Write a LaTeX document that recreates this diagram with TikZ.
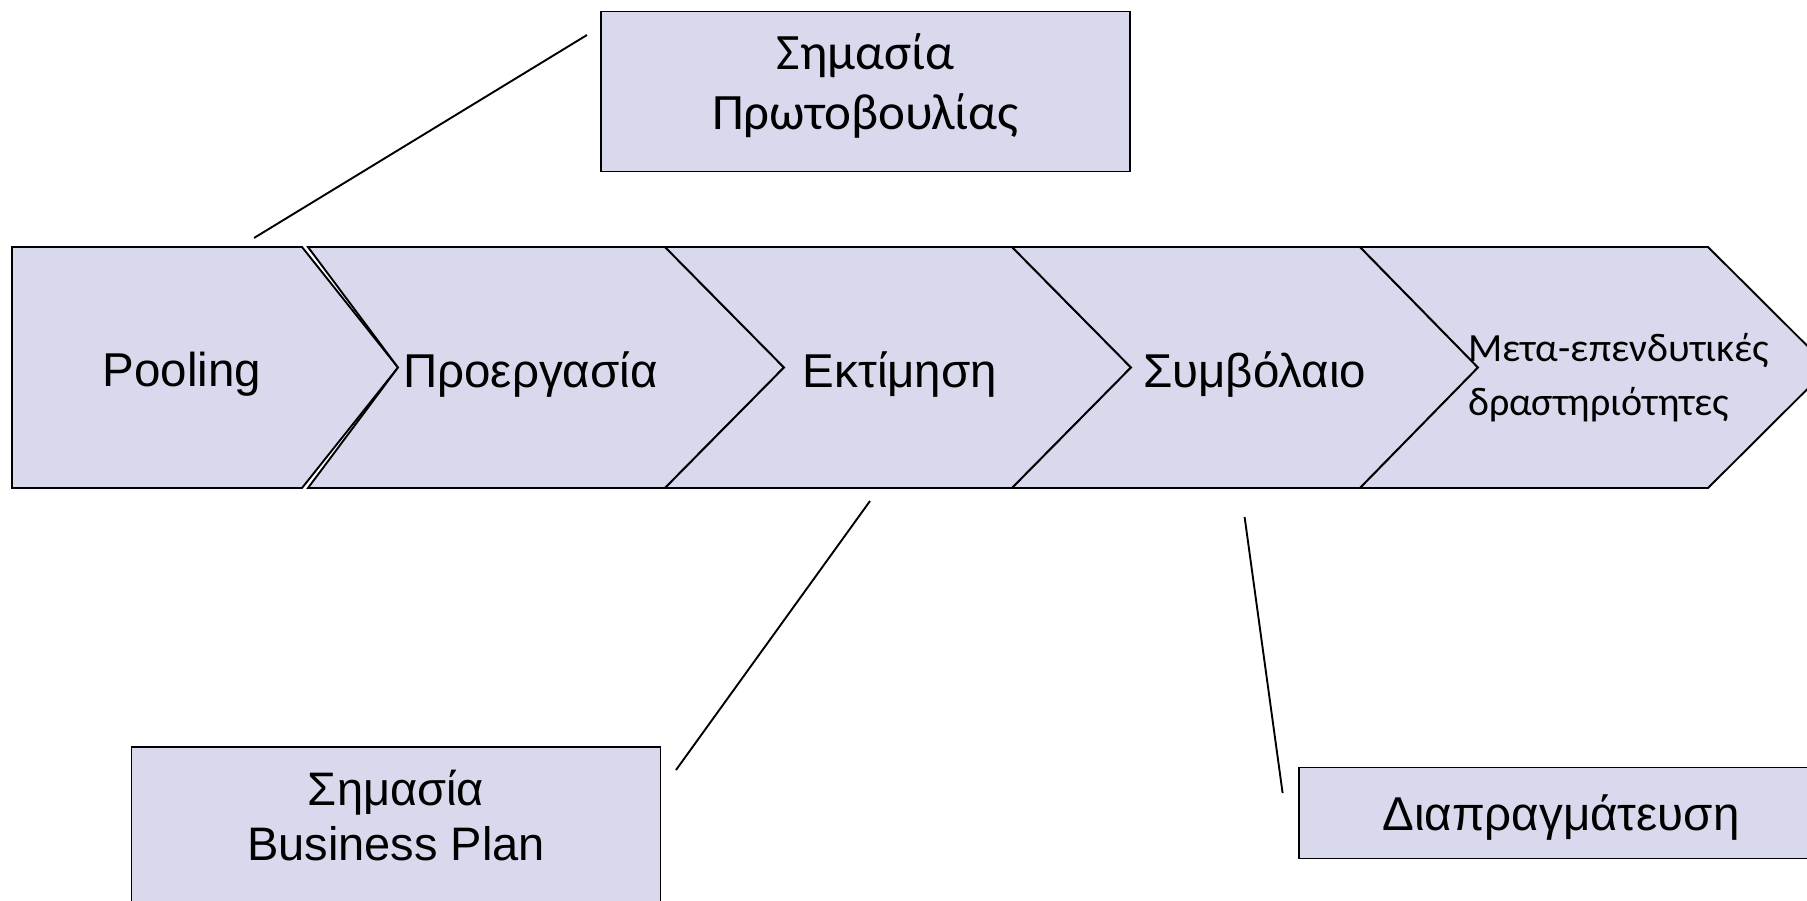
\documentclass[tikz,border=0pt]{standalone}
\usepackage{fontspec}
\setmainfont{Liberation Sans}
\newfontfamily\calibfont{Carlito}
\definecolor{stagefill}{RGB}{216,217,236}
\begin{document}
\begin{tikzpicture}[x=1pt,y=-1pt,
  stage/.style={draw=black,line width=1.9pt,fill=stagefill,line join=miter},
  infobox/.style={draw=black,line width=1.9pt,fill=stagefill,inner sep=0pt},
  lead/.style={draw=black,line width=1.9pt},
  stagetxt/.style={font=\fontsize{47.5}{56}\selectfont,inner sep=0pt},
  plaintxt/.style={inner sep=0pt,align=center},
  smallcalib/.style={font=\calibfont\fontsize{40}{54}\selectfont,align=left,inner sep=0pt}]
\useasboundingbox (0,0) rectangle (1807,901);
\clip (0,0) rectangle (1807,901);

% process chevrons
\draw[stage] (12,247) -- (302,247) -- (398,367.5) -- (302,488) -- (12,488) -- cycle;
\draw[stage] (308,247) -- (665,247) -- (784,367.5) -- (665,488) -- (308,488) -- (398,367.5) -- cycle;
\draw[stage] (665,247) -- (1012,247) -- (1131,367.5) -- (1012,488) -- (665,488) -- (784,367.5) -- cycle;
\draw[stage] (1012,247) -- (1360,247) -- (1478,367.5) -- (1360,488) -- (1012,488) -- (1131,367.5) -- cycle;
\draw[stage] (1360,247) -- (1708,247) -- (1829,367.5) -- (1708,488) -- (1360,488) -- (1478,367.5) -- cycle;

\node[stagetxt] (pool) at (182,374) {Pooling};
\node[stagetxt] (prep) at (530.5,374.5) {Προεργασία};
\node[stagetxt] (eval) at (900,374.5) {Εκτίμηση};
\node[stagetxt] (contr) at (1254.5,374.5) {Συμβόλαιο};
\node[smallcalib,anchor=west] (post) at (1468,378) {Μετα-επενδυτικές\\δραστηριότητες};

% callout boxes
\node[infobox,minimum width=529pt,minimum height=160pt] (initbox) at (865.5,91.5) {};
\node[plaintxt,font=\calibfont\fontsize{51}{60}\selectfont] (inittxt) at (865.5,86) {Σημασία\\Πρωτοβουλίας};
\node[infobox,minimum width=529pt,minimum height=160pt] (bpbox) at (396,827) {};
\node[plaintxt,font=\fontsize{47}{55}\selectfont] (bptxt) at (396,815.5) {Σημασία\\Business Plan};
\node[infobox,minimum width=524pt,minimum height=91pt] (negbox) at (1561,813) {};
\node[plaintxt,font=\fontsize{47.5}{56}\selectfont] (negtxt) at (1561,818) {Διαπραγμάτευση};

% leader lines
\coordinate (l1a) at (587,35);
\coordinate (l1b) at (254,238);
\coordinate (l2a) at (870,501);
\coordinate (l2b) at (676,770);
\coordinate (l3a) at (1244.6,517);
\coordinate (l3b) at (1282.6,793);
\draw[lead] (l1a) -- (l1b);
\draw[lead] (l2a) -- (l2b);
\draw[lead] (l3a) -- (l3b);
\end{tikzpicture}
\end{document}
